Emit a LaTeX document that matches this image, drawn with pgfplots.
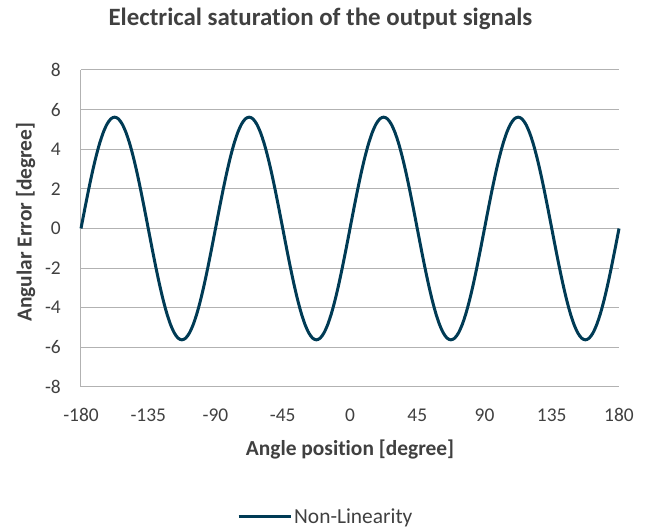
\documentclass[border=0pt]{standalone}
\usepackage{fontspec}
\setmainfont{Carlito}[Ligatures=NoCommon]
\usepackage{pgfplots}
\pgfplotsset{compat=1.18}

\definecolor{linecol}{RGB}{0,59,85}
\definecolor{gridcol}{RGB}{178,178,178}
\definecolor{txtcol}{RGB}{64,64,64}

\begin{document}
\begin{tikzpicture}[x=1bp,y=1bp]
\useasboundingbox (-81,-142) rectangle (571,387);
\begin{axis}[
    at={(0,0)}, anchor=south west,
    scale only axis,
    width=538bp, height=317bp,
    xmin=-180, xmax=180, ymin=-8, ymax=8,
    xtick={-180,-135,...,180},
    ytick={-8,-6,...,8},
    axis x line=bottom, axis y line=left,
    axis line style={gridcol, line width=1bp, -},
    major tick length=0pt,
    ymajorgrids,
    major grid style={gridcol, line width=1bp},
    /pgf/number format/assume math mode=true,
    tick label style={font=\fontsize{19.5}{21}\selectfont, text=txtcol, inner sep=0pt},
    xticklabel style={anchor=center, yshift=-28bp},
    yticklabel style={anchor=east, xshift=-20bp},
    title={Electrical saturation of the output signals},
    title style={font=\fontsize{25}{27}\selectfont\bfseries, text=txtcol,
        at={(axis description cs:0.445,1)}, anchor=center, yshift=45bp},
    xlabel={Angle position [degree]},
    xlabel style={font=\fontsize{21.5}{23}\selectfont\bfseries, text=txtcol,
        at={(axis description cs:0.5,0)}, anchor=center, yshift=-62bp},
    ylabel={Angular Error [degree]},
    ylabel style={font=\fontsize{21.5}{23}\selectfont\bfseries, text=txtcol,
        at={(axis description cs:-0.103,0.52)}, anchor=center},
    legend style={at={(axis description cs:0.455,-0.41)}, anchor=center,
        draw=none, fill=none, font=\fontsize{21.5}{23}\selectfont, text=txtcol,
        legend cell align=left, inner sep=0pt},
    legend image code/.code={\draw[#1] (0bp,0bp) -- (52bp,0bp);},
    legend image post style={line width=3bp},
    clip=false,
]
\addplot[linecol, line width=3bp, smooth] coordinates {
(-180,0) (-177.5,0.976) (-175,1.922) (-172.5,2.810) (-170,3.612) (-167.5,4.305)
(-165,4.867) (-162.5,5.281) (-160,5.535) (-157.5,5.620) (-155,5.535) (-152.5,5.281)
(-150,4.867) (-147.5,4.305) (-145,3.612) (-142.5,2.810) (-140,1.922) (-137.5,0.976)
(-135,0) (-132.5,-0.976) (-130,-1.922) (-127.5,-2.810) (-125,-3.612) (-122.5,-4.305)
(-120,-4.867) (-117.5,-5.281) (-115,-5.535) (-112.5,-5.620) (-110,-5.535) (-107.5,-5.281)
(-105,-4.867) (-102.5,-4.305) (-100,-3.612) (-97.5,-2.810) (-95,-1.922) (-92.5,-0.976)
(-90,0) (-87.5,0.976) (-85,1.922) (-82.5,2.810) (-80,3.612) (-77.5,4.305)
(-75,4.867) (-72.5,5.281) (-70,5.535) (-67.5,5.620) (-65,5.535) (-62.5,5.281)
(-60,4.867) (-57.5,4.305) (-55,3.612) (-52.5,2.810) (-50,1.922) (-47.5,0.976)
(-45,0) (-42.5,-0.976) (-40,-1.922) (-37.5,-2.810) (-35,-3.612) (-32.5,-4.305)
(-30,-4.867) (-27.5,-5.281) (-25,-5.535) (-22.5,-5.620) (-20,-5.535) (-17.5,-5.281)
(-15,-4.867) (-12.5,-4.305) (-10,-3.612) (-7.5,-2.810) (-5,-1.922) (-2.5,-0.976)
(0,0) (2.5,0.976) (5,1.922) (7.5,2.810) (10,3.612) (12.5,4.305)
(15,4.867) (17.5,5.281) (20,5.535) (22.5,5.620) (25,5.535) (27.5,5.281)
(30,4.867) (32.5,4.305) (35,3.612) (37.5,2.810) (40,1.922) (42.5,0.976)
(45,0) (47.5,-0.976) (50,-1.922) (52.5,-2.810) (55,-3.612) (57.5,-4.305)
(60,-4.867) (62.5,-5.281) (65,-5.535) (67.5,-5.620) (70,-5.535) (72.5,-5.281)
(75,-4.867) (77.5,-4.305) (80,-3.612) (82.5,-2.810) (85,-1.922) (87.5,-0.976)
(90,0) (92.5,0.976) (95,1.922) (97.5,2.810) (100,3.612) (102.5,4.305)
(105,4.867) (107.5,5.281) (110,5.535) (112.5,5.620) (115,5.535) (117.5,5.281)
(120,4.867) (122.5,4.305) (125,3.612) (127.5,2.810) (130,1.922) (132.5,0.976)
(135,0) (137.5,-0.976) (140,-1.922) (142.5,-2.810) (145,-3.612) (147.5,-4.305)
(150,-4.867) (152.5,-5.281) (155,-5.535) (157.5,-5.620) (160,-5.535) (162.5,-5.281)
(165,-4.867) (167.5,-4.305) (170,-3.612) (172.5,-2.810) (175,-1.922) (177.5,-0.976)
(180,0)
};
\addlegendentry{Non-Linearity}
\end{axis}
\end{tikzpicture}
\end{document}
